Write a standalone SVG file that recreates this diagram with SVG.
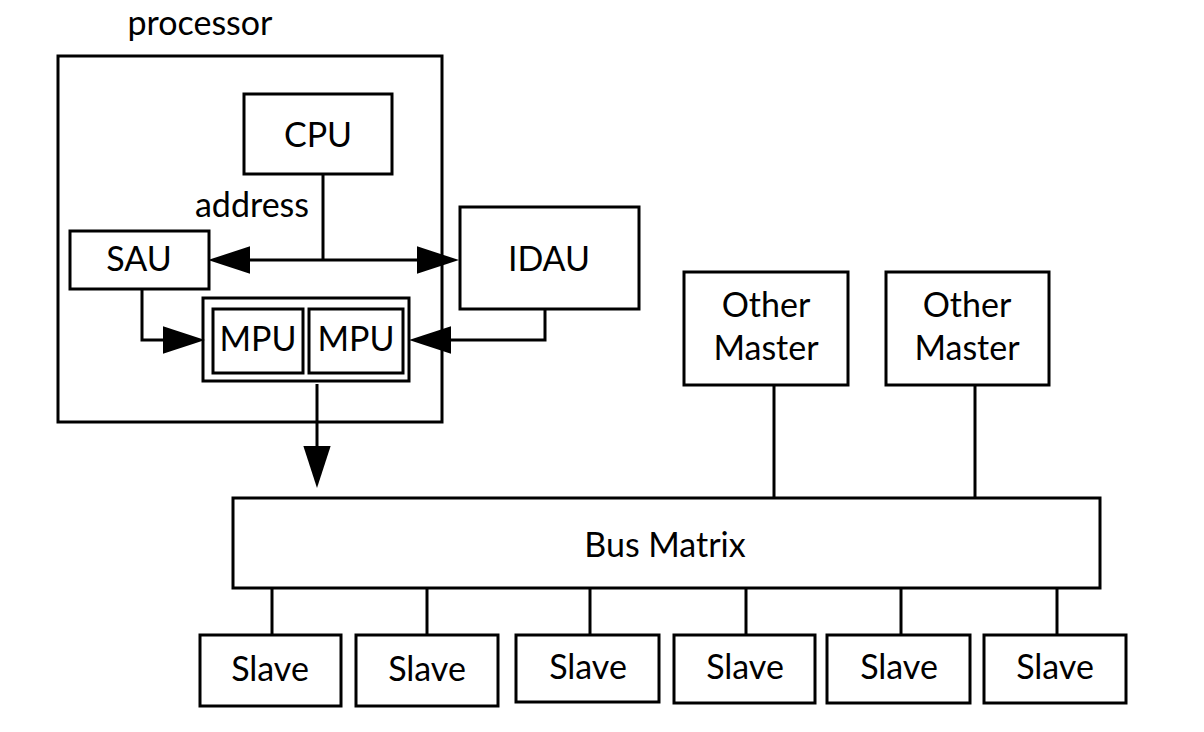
<svg xmlns="http://www.w3.org/2000/svg" width="1204" height="732" viewBox="0 0 1204 732">
<style>
.box{fill:#fff;stroke:#000;stroke-width:3}
.ln{fill:none;stroke:#000;stroke-width:3}
.t{font-family:Lato,"Liberation Sans",sans-serif;font-size:34px;fill:#000;text-anchor:middle}
</style>
<defs>
<marker id="ah" markerUnits="userSpaceOnUse" markerWidth="42" markerHeight="28" viewBox="0 0 40 26" refX="0" refY="13" orient="auto-start-reverse">
<path d="M0,0 L40,13 L0,26 z" fill="#000"/>
</marker>
</defs>
<rect width="1204" height="732" fill="#fff"/>
<g id="processor">
<rect class="box" x="58" y="56" width="384" height="366" fill="none"/>
<text class="t" x="200" y="35" font-size="35">processor</text>
</g>
<g id="cpu">
<rect class="box" x="244" y="94" width="148" height="80"/>
<text class="t" x="318" y="147">CPU</text>
</g>
<g id="sau">
<rect class="box" x="70" y="231" width="139" height="58"/>
<text class="t" x="139" y="271">SAU</text>
</g>
<g id="idau">
<rect class="box" x="460" y="207" width="179" height="102"/>
<text class="t" x="549" y="271">IDAU</text>
</g>
<g id="mpu">
<rect class="box" x="203" y="298" width="206" height="83"/>
<rect class="box" x="213" y="309" width="90" height="64"/>
<rect class="box" x="309" y="309" width="94" height="64"/>
<text class="t" x="258" y="351">MPU</text>
<text class="t" x="356" y="351">MPU</text>
</g>
<g id="master1">
<rect class="box" x="684" y="272" width="164" height="113"/>
<text class="t" x="766" y="317">Other</text>
<text class="t" x="766" y="360">Master</text>
</g>
<g id="master2">
<rect class="box" x="886" y="272" width="163" height="113"/>
<text class="t" x="967" y="317">Other</text>
<text class="t" x="967" y="360">Master</text>
</g>
<g id="busmatrix">
<rect class="box" x="233" y="498" width="867" height="90"/>
<text class="t" x="665" y="557">Bus Matrix</text>
</g>
<g id="slave1"><rect class="box" x="200" y="635" width="141" height="71"/><text class="t" x="270" y="681">Slave</text></g>
<g id="slave2"><rect class="box" x="356" y="635" width="142" height="71"/><text class="t" x="427" y="681">Slave</text></g>
<g id="slave3"><rect class="box" x="516" y="635" width="143" height="67"/><text class="t" x="588" y="679">Slave</text></g>
<g id="slave4"><rect class="box" x="674" y="635" width="141" height="68"/><text class="t" x="745" y="679">Slave</text></g>
<g id="slave5"><rect class="box" x="827" y="635" width="143" height="68"/><text class="t" x="899" y="679">Slave</text></g>
<g id="slave6"><rect class="box" x="984" y="635" width="142" height="68"/><text class="t" x="1055" y="679">Slave</text></g>
<g id="connectors">
<path class="ln" d="M323,174 V260"/>
<path class="ln" d="M250,260 H417" marker-start="url(#ah)" marker-end="url(#ah)"/>
<text class="t" x="252" y="217">address</text>
<path class="ln" d="M142,289 V340 H163" marker-end="url(#ah)"/>
<path class="ln" d="M545,309 V340 H451" marker-end="url(#ah)"/>
<path class="ln" d="M317,384 V446" marker-end="url(#ah)"/>
<path class="ln" d="M774,385 V498"/>
<path class="ln" d="M975,385 V498"/>
<path class="ln" d="M272,588 V635"/>
<path class="ln" d="M427,588 V635"/>
<path class="ln" d="M590,588 V635"/>
<path class="ln" d="M746,588 V635"/>
<path class="ln" d="M901,588 V635"/>
<path class="ln" d="M1057,588 V635"/>
</g>
</svg>
